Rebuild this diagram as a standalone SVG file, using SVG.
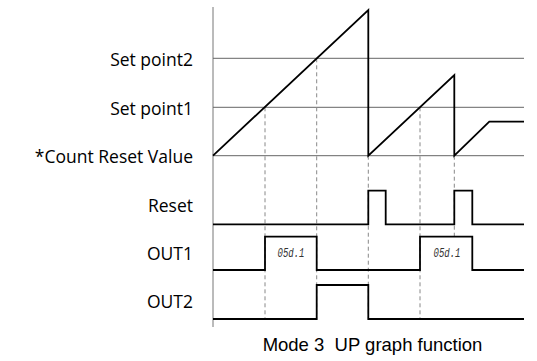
<svg xmlns="http://www.w3.org/2000/svg" width="537" height="361" viewBox="0 0 537 361">
<style>
.bg{fill:#fff}
.axis{stroke:#777;stroke-width:1;fill:none}
.grid{stroke:#666;stroke-width:1;fill:none}
.dash{stroke:#888;stroke-width:1;stroke-dasharray:4 3;fill:none}
.wave{stroke:#000;stroke-width:1.8;fill:none;stroke-linejoin:miter}
.lbl{font-family:"Open Sans","Noto Sans",sans-serif;font-size:17.5px;fill:#000;text-anchor:end}
.title{font-family:"Liberation Sans",Arial,sans-serif;font-size:18.5px;fill:#000;text-anchor:middle;white-space:pre}
.seg{font-family:"Liberation Mono",monospace;font-size:12.5px;fill:#333;font-style:italic;text-anchor:middle}
</style>
<rect class="bg" x="0" y="0" width="537" height="361"/>
<g id="labels">
<text class="lbl" x="193" y="66">Set point2</text>
<text class="lbl" x="193" y="114.5">Set point1</text>
<text class="lbl" x="193" y="162.7">*Count Reset Value</text>
<text class="lbl" x="193" y="211.7">Reset</text>
<text class="lbl" x="193" y="260">OUT1</text>
<text class="lbl" x="193" y="308.3">OUT2</text>
</g>
<g id="axes">
<line class="axis" x1="213" y1="7" x2="213" y2="327"/>
<line class="grid" x1="213" y1="58.3" x2="524" y2="58.3"/>
<line class="grid" x1="213" y1="107.3" x2="524" y2="107.3"/>
<line class="grid" x1="213" y1="155.7" x2="524" y2="155.7"/>
</g>
<g id="connectors">
<line class="dash" x1="265" y1="107.3" x2="265" y2="319"/>
<line class="dash" x1="316.7" y1="58.3" x2="316.7" y2="319"/>
<line class="dash" x1="368.3" y1="155.7" x2="368.3" y2="319"/>
<line class="dash" x1="420" y1="107.3" x2="420" y2="319"/>
<line class="dash" x1="454.3" y1="155.7" x2="454.3" y2="236.7"/>
</g>
<g id="count">
<polyline class="wave" points="213,155.7 368.3,10 368.3,155.7 454.3,75 454.3,155.7 489.3,121.7 524,121.7"/>
</g>
<g id="reset">
<polyline class="wave" points="213,224.3 368.3,224.3 368.3,190.7 385.7,190.7 385.7,224.3 454.3,224.3 454.3,190.7 472.3,190.7 472.3,224.3 524,224.3"/>
</g>
<g id="out1">
<polyline class="wave" points="213,270 265,270 265,236.7 316.7,236.7 316.7,270 420,270 420,236.7 472.3,236.7 472.3,270 524,270"/>
<text class="seg" x="291" y="256.5" textLength="27" lengthAdjust="spacingAndGlyphs">05d.1</text>
<text class="seg" x="447" y="256.5" textLength="27" lengthAdjust="spacingAndGlyphs">05d.1</text>
</g>
<g id="out2">
<polyline class="wave" points="213,319 316.7,319 316.7,285 368.3,285 368.3,319 524,319"/>
</g>
<text class="title" x="372.5" y="351">Mode 3  UP graph function</text>
</svg>
